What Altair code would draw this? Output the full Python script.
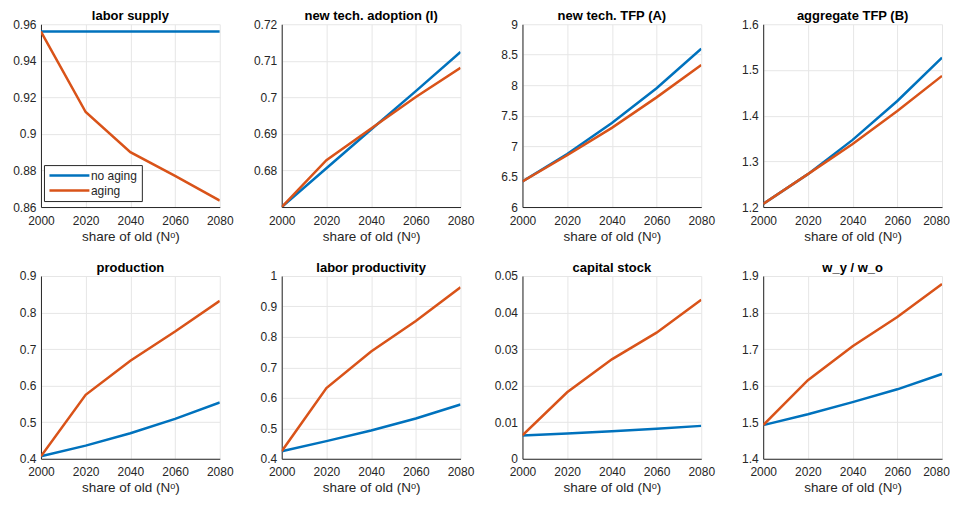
import altair as alt
import pandas as pd

years = [2000, 2020, 2040, 2060, 2080]
series_names = ["no aging", "aging"]
series_colors = ["#0072BD", "#D95319"]
x_ticks = [2000, 2020, 2040, 2060, 2080]
x_title = "share of old (Nᵒ)"

titles = [
    "labor supply", "new tech. adoption (I)", "new tech. TFP (A)", "aggregate TFP (B)",
    "production", "labor productivity", "capital stock", "w_y / w_o",
]

labor_supply_no = [0.956, 0.956, 0.956, 0.956, 0.956]
labor_supply_ag = [0.956, 0.912, 0.890, 0.877, 0.8635]
adoption_no = [0.670, 0.6806, 0.6912, 0.7017, 0.7124]
adoption_ag = [0.670, 0.6828, 0.6915, 0.7001, 0.7081]
tfp_a_no = [6.42, 6.87, 7.38, 7.95, 8.60]
tfp_a_ag = [6.42, 6.85, 7.30, 7.80, 8.33]
tfp_b_no = [1.207, 1.272, 1.347, 1.432, 1.527]
tfp_b_ag = [1.207, 1.272, 1.338, 1.410, 1.487]
production_no = [0.407, 0.436, 0.470, 0.509, 0.554]
production_ag = [0.407, 0.575, 0.668, 0.748, 0.832]
labor_prod_no = [0.425, 0.458, 0.493, 0.532, 0.578]
labor_prod_ag = [0.425, 0.632, 0.752, 0.852, 0.963]
capital_no = [0.0064, 0.0069, 0.0075, 0.0082, 0.0090]
capital_ag = [0.0064, 0.0182, 0.0272, 0.0345, 0.0435]
wage_ratio_no = [1.492, 1.522, 1.555, 1.590, 1.632]
wage_ratio_ag = [1.492, 1.615, 1.708, 1.788, 1.878]

y_domains = [
    [0.86, 0.96], [0.67, 0.72], [6, 9], [1.2, 1.6],
    [0.4, 0.9], [0.4, 1.0], [0, 0.05], [1.4, 1.9],
]
y_ticks = [
    [0.86, 0.88, 0.9, 0.92, 0.94, 0.96],
    [0.68, 0.69, 0.7, 0.71, 0.72],
    [6, 6.5, 7, 7.5, 8, 8.5, 9],
    [1.2, 1.3, 1.4, 1.5, 1.6],
    [0.4, 0.5, 0.6, 0.7, 0.8, 0.9],
    [0.4, 0.5, 0.6, 0.7, 0.8, 0.9, 1.0],
    [0, 0.01, 0.02, 0.03, 0.04, 0.05],
    [1.4, 1.5, 1.6, 1.7, 1.8, 1.9],
]
series_data = [
    (labor_supply_no, labor_supply_ag), (adoption_no, adoption_ag),
    (tfp_a_no, tfp_a_ag), (tfp_b_no, tfp_b_ag),
    (production_no, production_ag), (labor_prod_no, labor_prod_ag),
    (capital_no, capital_ag), (wage_ratio_no, wage_ratio_ag),
]

FONT = "Liberation Sans"
W, H = 179, 183

legend_obj = alt.Legend(
    title=None, orient="none", legendX=3, legendY=H - 8 - 34,
    symbolType="M-1,0H7", symbolSize=100, symbolStrokeWidth=2.5,
    symbolFillColor="transparent",
    labelOffset=30, labelFont=FONT, labelFontSize=12, labelColor="#262626",
    fillColor="white", strokeColor="#262626", padding=4, rowPadding=2,
)

panels = []
for i, (t, (noag, ag), ydom, yt) in enumerate(zip(titles, series_data, y_domains, y_ticks)):
    df = pd.DataFrame({
        "year": years + years,
        "value": noag + ag,
        "series": ["no aging"] * len(years) + ["aging"] * len(years),
    })
    color = alt.Color(
        "series:N",
        scale=alt.Scale(domain=series_names, range=series_colors),
        legend=legend_obj if i == 0 else None,
    )
    last_col = (i % 4 == 3)
    x_axis = alt.Axis(
        values=x_ticks, format="d", title=x_title, labelFlush=False,
        labelOffset={"condition": {"test": "datum.value == 2080", "value": -6}, "value": 0}
        if last_col else 0,
    )
    ch = alt.Chart(df, title=alt.TitleParams(
        t, font=FONT, fontSize=13, fontWeight="bold", color="#000000",
        anchor="middle", offset=-5,
    )).mark_line(strokeWidth=2.5, clip=True).encode(
        x=alt.X("year:Q", scale=alt.Scale(domain=[2000, 2080], nice=False), axis=x_axis),
        y=alt.Y("value:Q", scale=alt.Scale(domain=ydom, nice=False, zero=False),
                axis=alt.Axis(values=yt, format="~g", title=None)),
        color=color,
    ).properties(width=W, height=H)
    panels.append(ch)

chart = alt.concat(
    *panels, columns=4, spacing={"row": 69, "column": 62}, bounds="flush"
).resolve_scale(color="independent").resolve_legend(color="independent").properties(
    padding={"left": 4, "top": 2, "right": 0, "bottom": 0}
).configure_view(stroke=None).configure_axis(
    labelFont=FONT, labelFontSize=12, labelColor="#262626",
    titleFont=FONT, titleFontSize=13.5, titleFontWeight="normal", titleColor="#262626",
    domainColor="#262626", domainWidth=1, ticks=False,
    gridColor="#e6e6e6", gridWidth=1,
).configure_axisX(labelPadding=8, titlePadding=3).configure_axisY(labelPadding=5)

chart.save("out.html", embed_options={"renderer": "svg", "actions": False})
